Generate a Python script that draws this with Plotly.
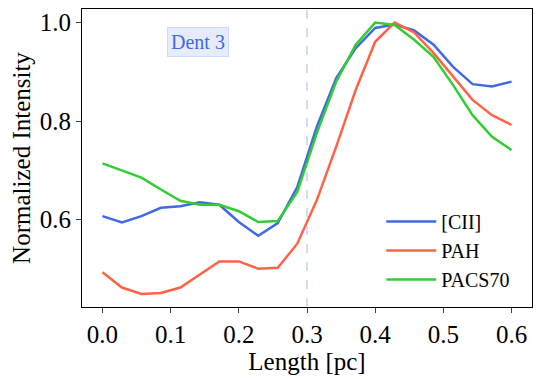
import numpy as np
import plotly.graph_objects as go

length = np.linspace(0, 0.6, 22)

cii = [0.607, 0.594, 0.607, 0.624, 0.627, 0.635, 0.630, 0.595, 0.567, 0.593, 0.666,
       0.788, 0.887, 0.948, 0.989, 0.996, 0.984, 0.955, 0.910, 0.875, 0.870, 0.880]
pah = [0.493, 0.462, 0.449, 0.451, 0.462, 0.489, 0.515, 0.515, 0.500, 0.502, 0.551,
       0.639, 0.748, 0.863, 0.961, 1.000, 0.980, 0.938, 0.890, 0.843, 0.812, 0.792]
pacs70 = [0.714, 0.700, 0.685, 0.661, 0.638, 0.630, 0.630, 0.617, 0.595, 0.597, 0.656,
          0.775, 0.880, 0.955, 1.000, 0.995, 0.965, 0.930, 0.873, 0.812, 0.768, 0.741]

series = [("[CII]", cii, "#4169E1"), ("PAH", pah, "#FF6347"), ("PACS70", pacs70, "#32CD32")]

serif = "Liberation Serif"

fig = go.Figure()
for name, vals, col in series:
    fig.add_trace(go.Scatter(x=length, y=vals, mode="lines", name=name,
                             line=dict(color=col, width=2.5)))

fig.add_vline(x=0.3, line=dict(color="rgba(65,105,225,0.3)", width=1.5, dash="dash"))

fig.add_annotation(x=0.14, y=0.96, text="Dent 3", showarrow=False,
                   font=dict(family=serif, size=20, color="#4169E1"),
                   bgcolor="rgba(65,105,225,0.13)", bordercolor="rgba(65,105,225,0.2)",
                   borderwidth=1, borderpad=3)

# page body has an 8px margin, so the figure is shifted; compensate
fig.update_layout(
    width=533, height=371,
    margin=dict(l=74, r=9, t=1, b=72),
    paper_bgcolor="white", plot_bgcolor="white",
    font=dict(family=serif, size=25, color="black"),
    legend=dict(x=0.665, y=0.19, xanchor="left", yanchor="middle", itemwidth=50,
                bgcolor="rgba(0,0,0,0)", font=dict(family=serif, size=20)),
)
fig.update_xaxes(range=[-0.03, 0.63], tickvals=[0, 0.1, 0.2, 0.3, 0.4, 0.5, 0.6],
                 tickformat=".1f", ticks="outside", ticklen=5, showgrid=False,
                 zeroline=False, showline=True, linecolor="black", mirror=True,
                 tickfont=dict(family=serif, size=25), automargin=False,
                 title=dict(text="Length [pc]", standoff=3, font=dict(family=serif, size=25)))
fig.update_yaxes(range=[0.4225, 1.0275], tickvals=[0.6, 0.8, 1.0],
                 tickformat=".1f", ticks="outside", ticklen=5, showgrid=False,
                 zeroline=False, showline=True, linecolor="black", mirror=True,
                 tickfont=dict(family=serif, size=25), automargin=False,
                 title=dict(text="Normalized Intensity", standoff=10, font=dict(family=serif, size=25)))

fig.write_html("out.html")
